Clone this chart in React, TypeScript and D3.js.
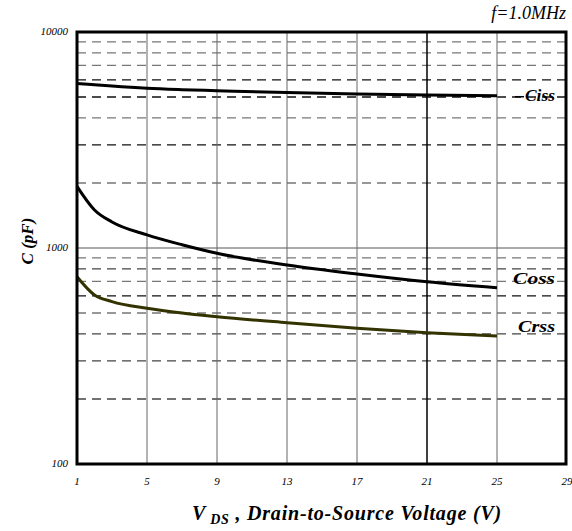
import React from "react";
import * as d3 from "d3";

// V_DS (V) sample points
const voltages = [1, 2, 3, 5, 7, 9, 13, 17, 21, 25];
const ciss = [5780, 5700, 5620, 5490, 5410, 5350, 5240, 5160, 5110, 5070];
const coss = [1930, 1500, 1320, 1150, 1035, 945, 834, 758, 698, 655];
const crss = [736, 606, 565, 526, 500, 481, 451, 425, 405, 391];

const seriesNames = ["Ciss", "Coss", "Crss"];
const seriesColors = ["#000000", "#000000", "#333300"];

const xTicks = [1, 5, 9, 13, 17, 21, 25, 29];
const yTicks = [100, 1000, 10000];
const minorY = [200, 300, 400, 500, 600, 700, 800, 900, 2000, 3000, 4000, 5000, 6000, 7000, 8000, 9000];
// some dashed lines print darker than others
const darkMinor = [3000, 5000, 6000, 600];
const midMinor = [200, 300, 400, 800];

const W = 572;
const H = 531;
const margin = { left: 77, right: 6, top: 32, bottom: 67 };
const font = "'Liberation Serif', 'DejaVu Serif', serif";

const App = () => {
  const x = d3.scaleLinear().domain([1, 29]).range([margin.left, W - margin.right + 1]);
  const y = d3.scaleLog().domain([100, 10000]).range([H - margin.bottom, margin.top]);

  const line = d3
    .line<number>()
    .x((d, i) => x(voltages[i]))
    .y((d) => y(d))
    .curve(d3.curveMonotoneX);

  const allSeries = [ciss, coss, crss];
  const x0 = margin.left;
  const x1 = W - margin.right;
  const y0 = margin.top;
  const y1 = H - margin.bottom;

  const dashColor = (v: number) =>
    darkMinor.includes(v) ? "#111" : midMinor.includes(v) ? "#444" : "#777";

  return (
    <svg
      width={W}
      height={H}
      style={{ position: "absolute", left: 0, top: 0, background: "#fff" }}
      fontFamily={font}
    >
      {/* minor dashed grid */}
      {minorY.map((v) => (
        <line
          key={"m" + v}
          x1={x0}
          x2={x1}
          y1={y(v)}
          y2={y(v)}
          stroke={dashColor(v)}
          strokeWidth={1.3}
          strokeDasharray="9,6"
        />
      ))}
      {/* decade line */}
      <line x1={x0} x2={x1} y1={y(1000)} y2={y(1000)} stroke="#555" strokeWidth={1} />
      {/* vertical grid */}
      {xTicks.slice(1, -1).map((t) => (
        <line
          key={"v" + t}
          x1={x(t)}
          x2={x(t)}
          y1={y0}
          y2={y1}
          stroke={t === 21 ? "#000" : "#666"}
          strokeWidth={t === 21 ? 1.5 : 1}
        />
      ))}

      {/* curves */}
      {allSeries.map((s, i) => (
        <path
          key={seriesNames[i]}
          d={line(s) || ""}
          fill="none"
          stroke={seriesColors[i]}
          strokeWidth={3}
        />
      ))}

      {/* frame */}
      <rect x={x0} y={y0} width={x1 - x0} height={y1 - y0} fill="none" stroke="#000" strokeWidth={3} />

      {/* curve labels */}
      <line x1={515} x2={524} y1={y(ciss[ciss.length - 1]) + 1} y2={y(ciss[ciss.length - 1]) + 1} stroke="#000" strokeWidth={1.5} />
      <text x={525} y={101} fontSize={17} fontWeight="bold" fontStyle="italic" textLength={30} lengthAdjust="spacingAndGlyphs">
        Ciss
      </text>
      <text x={513} y={284} fontSize={17} fontWeight="bold" fontStyle="italic" textLength={42} lengthAdjust="spacingAndGlyphs">
        Coss
      </text>
      <text x={518} y={332} fontSize={17} fontWeight="bold" fontStyle="italic" textLength={37} lengthAdjust="spacingAndGlyphs">
        Crss
      </text>

      {/* y tick labels */}
      {yTicks.map((t) => (
        <text
          key={"yt" + t}
          x={x0 - 9}
          y={y(t) + 3}
          fontSize={11}
          fontStyle="italic"
          textAnchor="end"
        >
          {t}
        </text>
      ))}
      {/* x tick labels */}
      {xTicks.map((t) => (
        <text
          key={"xt" + t}
          x={x(t)}
          y={y1 + 21}
          fontSize={11}
          fontStyle="italic"
          textAnchor="middle"
        >
          {t}
        </text>
      ))}

      <text x={566} y={19} fontSize={18} fontStyle="italic" textAnchor="end">
        f=1.0MHz
      </text>

      <text
        transform={`translate(33, ${y(1000) - 7}) rotate(-90)`}
        fontSize={17}
        fontWeight="bold"
        fontStyle="italic"
        textAnchor="middle"
      >
        C (pF)
      </text>

      <text x={192} y={520} fontSize={20} fontWeight="bold" fontStyle="italic" letterSpacing={0.8}>
        V
        <tspan fontSize={14} dy={4} dx={4}>
          DS
        </tspan>
        <tspan dy={-4}> , Drain-to-Source Voltage (V)</tspan>
      </text>
    </svg>
  );
};

export default App;
